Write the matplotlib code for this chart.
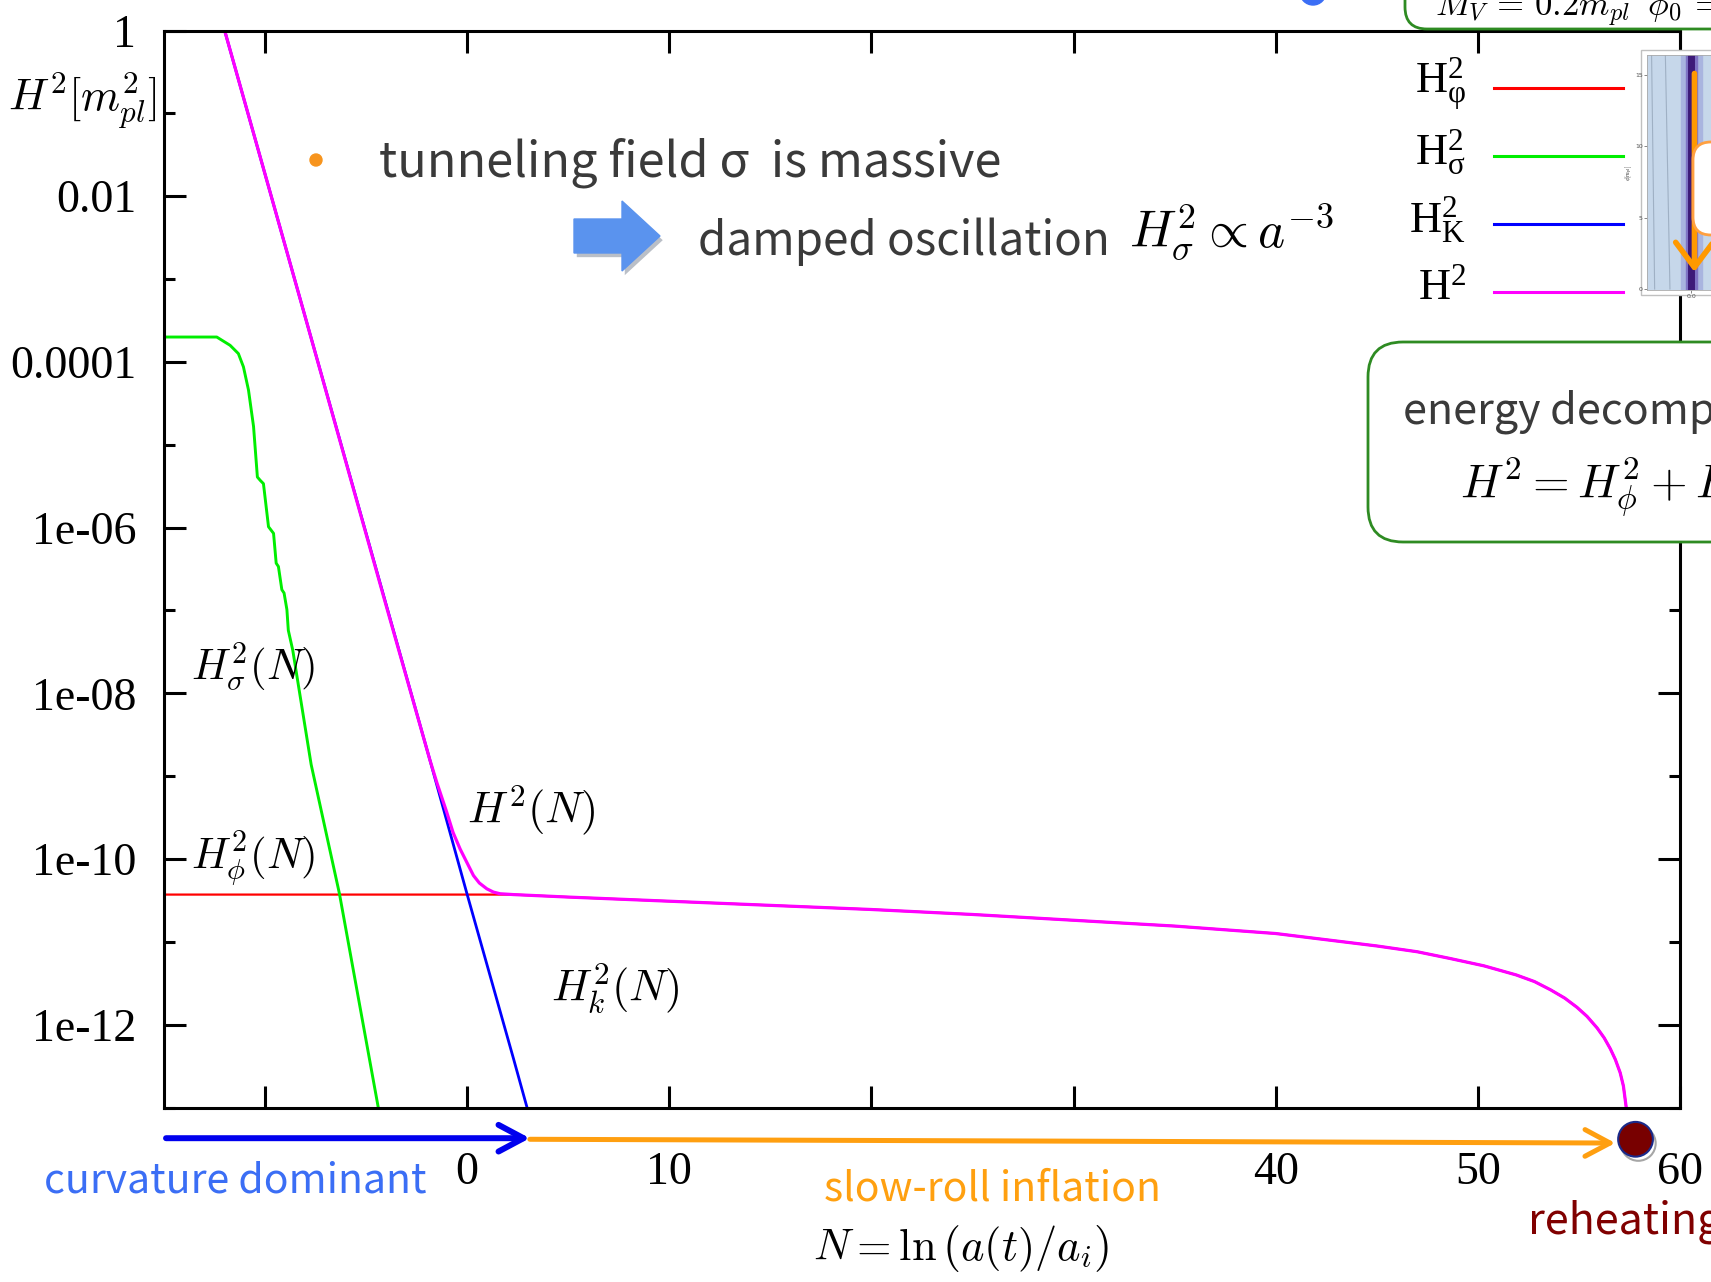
import numpy as np
import matplotlib
matplotlib.use('Agg')
import matplotlib.pyplot as plt
import matplotlib.patheffects as pe
from matplotlib.patches import FancyBboxPatch, FancyArrow, FancyArrowPatch, Circle, Rectangle
from matplotlib.transforms import IdentityTransform, blended_transform_factory

plt.rcParams['mathtext.fontset'] = 'cm'

# e-folds N and log10(H^2 / m_pl^2) for each energy component
N_tot = [-12.0, -8.0, -4.0, -1.84, -1.5, -1.02, -0.7, -0.35, 0.0, 0.31, 0.6, 0.97, 1.3, 1.63,
         2.29, 5.0, 10.0, 15.0, 20.0, 25.0, 30.0, 35.0, 40.0, 45.0, 47.0, 48.6, 50.3, 51.9,
         52.8, 53.6, 54.3, 54.9, 55.4, 55.9, 56.25, 56.55, 56.8, 57.04, 57.2, 57.34]
logH_tot = [0.0, -3.47, -6.95, -8.81, -9.08, -9.43, -9.68, -9.88, -10.05, -10.2, -10.29, -10.36,
            -10.40, -10.42, -10.43, -10.46, -10.51, -10.56, -10.61, -10.67, -10.74, -10.81,
            -10.90, -11.05, -11.12, -11.20, -11.29, -11.40, -11.48, -11.58, -11.68, -11.79,
            -11.90, -12.04, -12.16, -12.29, -12.42, -12.58, -12.74, -13.0]

N_phi = [-15.0, 0.0, 2.29, 5.0, 10.0, 15.0, 20.0, 25.0, 30.0, 35.0, 40.0, 45.0, 47.0, 48.6,
         50.3, 51.9, 52.8, 53.6, 54.3, 54.9, 55.4, 55.9, 56.25, 56.55, 56.8, 57.04, 57.2, 57.34]
logH_phi = [-10.43, -10.43, -10.43, -10.46, -10.51, -10.56, -10.61, -10.67, -10.74, -10.81,
            -10.90, -11.05, -11.12, -11.20, -11.29, -11.40, -11.48, -11.58, -11.68, -11.79,
            -11.90, -12.04, -12.16, -12.29, -12.42, -12.58, -12.74, -13.0]

N_sig = [-15.0, -12.8, -12.39, -11.73, -11.32, -11.07, -10.82, -10.57, -10.38, -10.24, -10.08,
         -9.83, -9.58, -9.45, -9.34, -9.17, -9.06, -8.92, -8.85, -8.63, -7.72, -6.32, -4.40]
logH_sig = [-3.70, -3.70, -3.70, -3.80, -3.90, -4.06, -4.34, -4.78, -5.39, -5.43, -5.47,
            -5.99, -6.07, -6.43, -6.47, -6.75, -6.79, -6.99, -7.24, -7.48, -8.86, -10.42, -13.0]

N_K = [-15.0, -1.84, 0.0, 2.29, 2.96]
logH_K = [2.60, -8.81, -10.43, -12.41, -13.0]

# phases along the N axis
N_start, N_curv_end, N_sr_end, N_reheat = -15.0, 3.1, 56.8, 57.8

xticks = [-10, 0, 10, 20, 30, 40, 50, 60]
xticklabels = ['', '0', '10', '', '', '40', '50', '60']
yticks = [1, 1e-2, 1e-4, 1e-6, 1e-8, 1e-10, 1e-12]
yticklabels = ['1', '0.01', '0.0001', '1e-06', '1e-08', '1e-10', '1e-12']
yminor = [1e-1, 1e-3, 1e-5, 1e-7, 1e-9, 1e-11, 1e-13]

legend_labels = [r'$\mathregular{H^2_φ}$', r'$\mathregular{H^2_σ}$',
                 r'$\mathregular{H^2_K}$', r'$\mathregular{H^2}$']
legend_colors = ['#ff0000', '#00ee00', '#0000ff', '#ff00ff']

W, H = 1711, 1282
fig = plt.figure(figsize=(W / 100, H / 100), dpi=100)
ax = fig.add_axes([164 / W, 1 - 1107.5 / H, 1516 / W, 1077 / H])

ax.plot(N_phi, 10 ** np.array(logH_phi), color='#ff0000', lw=1.6)
ax.plot(N_sig, 10 ** np.array(logH_sig), color='#00ee00', lw=2.1)
ax.plot(N_K, 10 ** np.array(logH_K), color='#0000ff', lw=2.0)
ax.plot(N_tot, 10 ** np.array(logH_tot), color='#ff00ff', lw=2.3)

ax.set_yscale('log')
ax.set_xlim(-15, 60)
ax.set_ylim(1e-13, 1)
ax.set_xticks(xticks)
ax.set_xticklabels(xticklabels)
ax.set_yticks(yticks)
ax.set_yticklabels(yticklabels)
ax.set_yticks(yminor, minor=True)
ax.yaxis.set_minor_formatter(plt.NullFormatter())
for lab in ax.get_xticklabels() + ax.get_yticklabels():
    lab.set_family('Liberation Serif')
ax.tick_params(which='both', direction='in', top=True, right=True, width=2.2, labelsize=33)
ax.tick_params(axis='x', length=16, pad=32)
ax.tick_params(axis='y', which='major', length=16, pad=20)
ax.tick_params(axis='y', which='minor', length=8)
for s in ax.spines.values():
    s.set_linewidth(2.2)

# curve labels
ax.text(-13.66, 10 ** -7.69, r'$H^2_\sigma(N)$', fontsize=31, va='center')
ax.text(-13.66, 10 ** -10.01, r'$H^2_\phi(N)$', fontsize=31, va='center')
ax.text(0.0, 10 ** -9.41, r'$H^2(N)$', fontsize=32, va='center')
ax.text(4.15, 10 ** -11.56, r'$H^2_k(N)$', fontsize=32, va='center')


def ftext(x, y, s, **kw):
    return fig.text(x / W, 1 - y / H, s, **kw)


sans = 'Noto Sans CJK JP'
ftext(82, 100, r'$H^2[m_{pl}^2]$', fontsize=32, ha='center', va='center')

# annotation text in the upper part of the plot
fig.add_artist(Circle((316, H - 160), 6, color='#f7941d', transform=IdentityTransform()))
ftext(379, 163, 'tunneling field σ  is massive', fontsize=35, family=sans,
      color='#3a3a3a', va='center')
fig.add_artist(FancyArrow(574, H - 236, 48, 0, width=34, head_width=70, head_length=38,
                          length_includes_head=False, color='#5a93ee',
                          transform=IdentityTransform(),
                          path_effects=[pe.SimplePatchShadow(offset=(2, -3), alpha=0.3),
                                        pe.Normal()]))
ftext(698, 242, 'damped oscillation', fontsize=33, family=sans, color='#3a3a3a', va='center')
ftext(1129, 232, r'$H_\sigma^2 \propto a^{-3}$', fontsize=37, va='center')

# legend
for i, (lab, c) in enumerate(zip(legend_labels, legend_colors)):
    yy = 88 + i * 68
    fig.add_artist(plt.Line2D([1494 / W, 1623 / W], [1 - yy / H, 1 - yy / H],
                              color=c, lw=2.2))
    ftext(1466, yy - 4, lab, fontsize=32, family='Liberation Serif', ha='right', va='center')

# parameter box at the top edge
fig.add_artist(FancyBboxPatch((1405, H - 29), 420, 90,
                              boxstyle='round,pad=0,rounding_size=22', ec='#2e8b22',
                              fc='white', lw=2, transform=IdentityTransform()))
ftext(1435, 9, r'$M_V\,=\,0.2m_{pl}\;\;\phi_0\,=\,15m_{pl}$', fontsize=25, va='center')
fig.add_artist(Circle((1313, H + 8), 13, color='#3b6ef5', transform=IdentityTransform()))

# energy decomposition box
fig.add_artist(FancyBboxPatch((1368, H - 542), 460, 200,
                              boxstyle='round,pad=0,rounding_size=35', ec='#2e8b22',
                              fc='white', lw=2, transform=IdentityTransform()))
ftext(1403, 412, 'energy decomposition', fontsize=31, family=sans, color='#3a3a3a',
      va='center')
ftext(1460, 487, r'$H^2 = H_\phi^2 + H_\sigma^2 + H_K^2$', fontsize=34, va='center')

# small potential plot in the corner
frame = Rectangle((1641, H - 295), 200, 245, fc='white', ec='#c0c0c0', lw=1,
                  transform=IdentityTransform(), zorder=2)
fig.add_artist(frame)
axi = fig.add_axes([1647 / W, 1 - 290 / H, 153 / W, 235 / H], zorder=3)
axi.set_facecolor('#c6d7ea')
axi.set_xlim(-0.29, 0.71)
axi.set_ylim(-0.07, 16.4)
contour_x0 = [-0.24, -0.14, 0.14, 0.24, 0.4]
contour_x1 = [-0.26, -0.17, 0.17, 0.28, 0.46]
for a, b in zip(contour_x0, contour_x1):
    axi.plot([a, b], [0, 16.4], color='#9fb0c4', lw=0.8)
axi.axvspan(-0.07, 0.07, color='#a9b4df')
axi.axvspan(-0.035, 0.035, color='#7f73c4')
axi.axvline(0, color='#3d1a78', lw=5)
axi.annotate('', xy=(0.02, 1.0), xytext=(0.02, 15.3),
             arrowprops=dict(arrowstyle='->,head_length=0.6,head_width=0.45', color='#ff9900',
                             lw=4, mutation_scale=30))
axi.set_yticks([0, 5, 10, 15])
axi.set_xticks([0.0])
axi.set_xticklabels(['0.0'])
axi.set_ylabel(r'$\phi[m_{pl}]$', fontsize=4, labelpad=1)
axi.tick_params(labelsize=4.5, length=2, width=0.5, pad=1, colors='#555555')
for s in axi.spines.values():
    s.set_color('#aaaaaa')
    s.set_linewidth(0.6)
fig.add_artist(FancyBboxPatch((1693, H - 235), 120, 93,
                              boxstyle='round,pad=0,rounding_size=18', ec='#ffa040',
                              fc='white', lw=2, transform=IdentityTransform(), zorder=4))

# phase arrows under the N axis
bt = blended_transform_factory(ax.transData, ax.transAxes)
ax.add_patch(FancyArrowPatch((N_start + 0.1, -0.0285), (N_curv_end, -0.0285), transform=bt,
                             arrowstyle='->,head_length=0.6,head_width=0.32', mutation_scale=30,
                             color='#0000ee', lw=4.3, clip_on=False, shrinkA=0, shrinkB=0))
ax.add_patch(FancyArrowPatch((N_curv_end, -0.0295), (N_sr_end, -0.033), transform=bt,
                             arrowstyle='->,head_length=0.6,head_width=0.32', mutation_scale=30,
                             color='#ff9f10', lw=3.6, clip_on=False, shrinkA=0, shrinkB=0))
ax.plot([N_reheat], [-0.0295], transform=bt, marker='o', ms=25, mfc='#780000', mec='#1a2a8a',
        mew=1.5, clip_on=False,
        path_effects=[pe.SimpleLineShadow(offset=(2, -3), alpha=0.35), pe.Normal()])

ftext(44, 1181, 'curvature dominant', fontsize=29.5, family=sans, color='#3b6ef5', va='center')
ftext(824, 1189, 'slow-roll inflation', fontsize=29.5, family=sans, color='#ffa010', va='center')
ftext(1528, 1222, 'reheating', fontsize=31, family=sans, color='#800000', va='center')
ftext(813, 1249, r'$N = \ln\left(a(t)/a_i\right)$', fontsize=32, va='center')

fig.savefig('out.png', dpi=100)
